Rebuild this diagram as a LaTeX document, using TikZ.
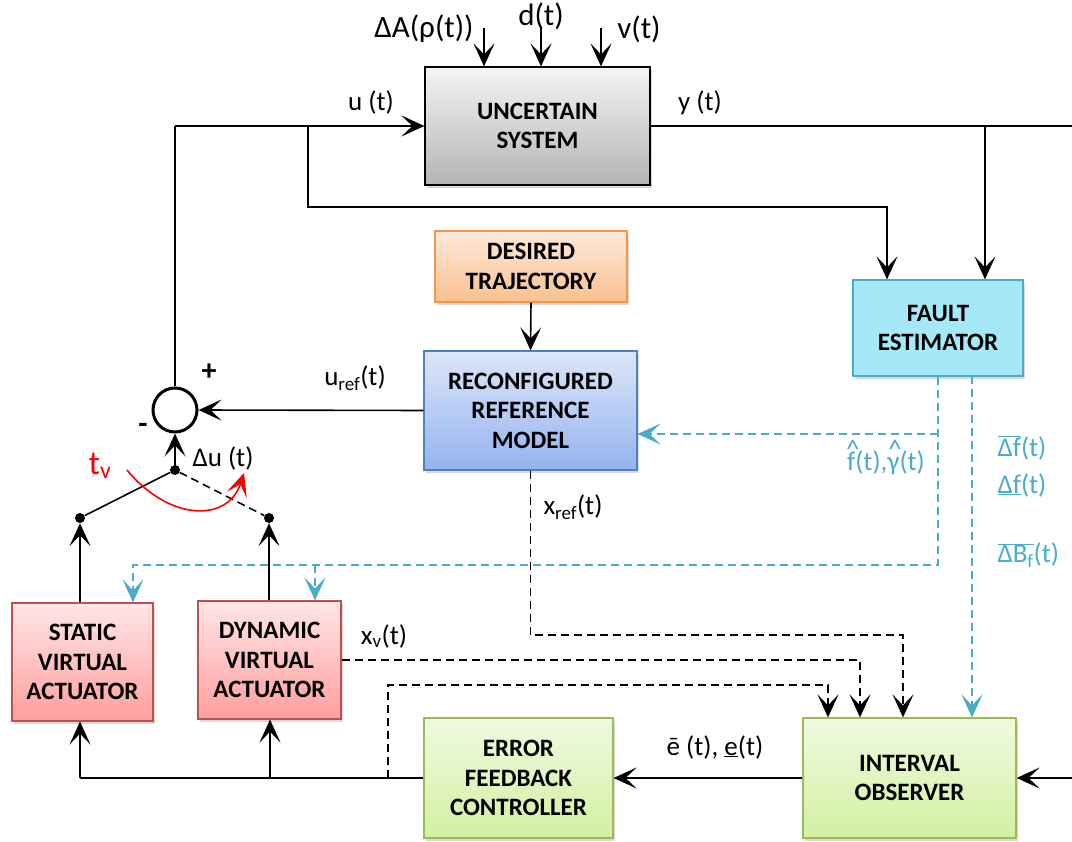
\documentclass[tikz,border=0pt]{standalone}
\usepackage{fontspec}
\setmainfont{Carlito}
\usetikzlibrary{arrows.meta, positioning, shadows}

\definecolor{cyline}{HTML}{4BACC6}
\definecolor{sysTop}{HTML}{F4F4F4}
\definecolor{sysBot}{HTML}{B4B4B4}
\definecolor{trajTop}{HTML}{FDEADA}
\definecolor{trajBot}{HTML}{FAC08F}
\definecolor{trajLine}{HTML}{F79646}
\definecolor{refTop}{HTML}{DCE6F8}
\definecolor{refBot}{HTML}{95B3F0}
\definecolor{refLine}{HTML}{4F81BD}
\definecolor{festFill}{HTML}{A5E8F8}
\definecolor{vaTop}{HTML}{FFE6E6}
\definecolor{vaBot}{HTML}{FF9E9E}
\definecolor{vaLine}{HTML}{C0504D}
\definecolor{grTop}{HTML}{F0FADF}
\definecolor{grBot}{HTML}{D2F0A2}
\definecolor{grLine}{HTML}{9BBB59}

% hat drawn above a letter (the font has no combining circumflex)
\newcommand\hatted[1]{\ooalign{#1\cr\hidewidth\raisebox{0.42em}{\kern0.12em\textasciicircum}\hidewidth\cr}}

\begin{document}
\begin{tikzpicture}[x=1pt, y=-1pt,
        block/.style={rectangle, draw, line width=1.2pt, text centered, align=center,
            font=\fontsize{25}{29.5}\selectfont\bfseries,
            drop shadow={opacity=0.3, shadow xshift=2pt, shadow yshift=-3pt}},
        sysbox/.style={block, draw=black, top color=sysTop, bottom color=sysBot},
        trajbox/.style={block, draw=trajLine, top color=trajTop, bottom color=trajBot},
        refbox/.style={block, draw=refLine, top color=refTop, bottom color=refBot},
        festbox/.style={block, draw=cyline, fill=festFill},
        vabox/.style={block, draw=vaLine, top color=vaTop, bottom color=vaBot},
        grbox/.style={block, draw=grLine, top color=grTop, bottom color=grBot},
        sumnode/.style={circle, draw, line width=3pt, minimum size=44pt, inner sep=0pt},
        dot/.style={circle, fill=black, minimum size=10pt, inner sep=0pt},
        sig/.style={font=\fontsize{27}{30}\selectfont},
        bigsig/.style={font=\fontsize{31}{33}\selectfont},
        cysig/.style={sig, text=cyline},
        line/.style={line width=1.6pt},
        arrow/.style={line, -{Stealth[length=23pt, width=21pt, inset=11pt]}},
        darrow/.style={arrow, dash pattern=on 8pt off 5pt},
        cyarrow/.style={darrow, draw=cyline, -{Stealth[length=23pt, width=21pt, inset=11pt, fill=cyline]}}
    ]
        \useasboundingbox (0,0) rectangle (1072,842);

        % Blocks
        \node[sysbox, minimum width=225pt, minimum height=118pt] (sys) at (537.5,126) {UNCERTAIN\\SYSTEM};
        \node[trajbox, minimum width=192pt, minimum height=71pt] (traj) at (531,266.5) {DESIRED\\TRAJECTORY};
        \node[refbox, minimum width=213pt, minimum height=119pt] (ref) at (530.5,410.5) {RECONFIGURED\\REFERENCE\\MODEL};
        \node[festbox, minimum width=170pt, minimum height=96pt] (fest) at (938,328) {FAULT\\ESTIMATOR};
        \node[vabox, minimum width=141pt, minimum height=118pt] (sva) at (82.5,662) {STATIC\\VIRTUAL\\ACTUATOR};
        \node[vabox, minimum width=143pt, minimum height=118pt] (dva) at (269.5,660) {DYNAMIC\\VIRTUAL\\ACTUATOR};
        \node[grbox, minimum width=189pt, minimum height=120pt] (efc) at (518.5,778) {ERROR\\FEEDBACK\\CONTROLLER};
        \node[grbox, minimum width=213pt, minimum height=120pt] (io) at (909.5,778) {INTERVAL\\OBSERVER};

        % Sum and switch
        \node[sumnode] (sum) at (175,410) {};
        \node[dot] (piv) at (175,470) {};
        \node[dot] (cs) at (80,518) {};
        \node[dot] (cd) at (269,518) {};

        % Disturbances
        \coordinate (dA) at (484,28);
        \coordinate (dd) at (541,28);
        \coordinate (dv) at (601,28);
        \draw[arrow] (dA) -- (dA |- sys.north);
        \draw[arrow] (dd) -- (dd |- sys.north);
        \draw[arrow] (dv) -- (dv |- sys.north);
        \node[bigsig] (lA) at (424,29) {ΔA(ρ(t))};
        \node[bigsig] (ld) at (541,16) {d(t)};
        \node[bigsig] (lv) at (639,29) {v(t)};

        % Plant input / output
        \coordinate (uleft) at (175,126);
        \coordinate (ubr) at (308,126);
        \coordinate (ucorner) at (887,207);
        \draw[arrow] (uleft) -- (sys.west);
        \draw[line] (uleft) -- (sum.north);
        \draw[arrow] (ubr) |- (ucorner) -- (ucorner |- fest.north);
        \coordinate (yend) at (1072,126);
        \coordinate (ybr) at (985,126);
        \draw[line] (sys.east) -- (yend);
        \draw[arrow] (ybr) -- (ybr |- fest.north);
        \node[sig] (lu) at (371,103) {u (t)};
        \node[sig] (ly) at (700,103) {y (t)};

        % Reference path
        \draw[arrow] (traj.south) -- (ref.north);
        \draw[arrow] (ref.west) -- (sum.east);
        \node[sig] (luref) at (355,378) {u\textsubscript{ref}(t)};
        \node[font=\fontsize{30}{32}\selectfont\bfseries] (lplus) at (209,372) {+};
        \node[font=\fontsize{30}{32}\selectfont\bfseries] (lminus) at (143,428) {-};

        % Switch between actuators
        \draw[arrow] (piv) -- (sum.south);
        \draw[line] (piv) -- (cs);
        \draw[line, dash pattern=on 8pt off 5pt] (piv) -- (cd);
        \draw[arrow] (cs |- sva.north) -- (cs);
        \draw[arrow] (cd |- dva.north) -- (cd);
        \node[sig] (ldu) at (223,458) {Δu (t)};
        \node[font=\fontsize{34}{36}\selectfont, text=red] (ltv) at (100,466) {t\textsubscript{v}};
        \coordinate (tva) at (127,470);
        \coordinate (tvb) at (244,473);
        \draw[arrow, red] (tva) .. controls (170,522) and (228,522) .. (tvb);

        % Fault estimates (dashed, cyan)
        \coordinate (cfh) at (938,434);
        \coordinate (cvl) at (133,565);
        \coordinate (cvd) at (315,565);
        \coordinate (cdf) at (972,376);
        \draw[cyarrow] (fest.south) |- (cvl) -- (cvl |- sva.north);
        \draw[cyarrow] (cvd) -- (cvd |- dva.north);
        \draw[cyarrow] (cfh) -- (cfh -| ref.east);
        \draw[cyarrow] (cdf) -- (cdf |- io.north);
        \node[cysig] (lfh) at (886,462) {\hatted{f}(t),\hatted{γ}(t)};
        \node[cysig, anchor=west] (ldfu) at (994,448) {$\overline{\mbox{Δf}}$(t)};
        \node[cysig, anchor=west] (ldfl) at (994,485) {\underline{Δf}(t)};
        \node[cysig, anchor=west] (ldb) at (994,555) {$\overline{\mbox{ΔB\textsubscript{f}}}$(t)};

        % Observer inputs (dashed)
        \coordinate (xrc) at (903,635);
        \coordinate (xvc) at (860,660);
        \coordinate (fbl) at (388,778);
        \coordinate (fbc) at (828,685);
        \draw[darrow] (ref.south) |- (xrc) -- (xrc |- io.north);
        \draw[darrow] (dva.east) -- (xvc) -- (xvc |- io.north);
        \draw[darrow] (fbl) |- (fbc) -- (fbc |- io.north);
        \node[sig] (lxref) at (573,507) {x\textsubscript{ref}(t)};
        \node[sig] (lxv) at (384,636) {x\textsubscript{v}(t)};

        % Error feedback
        \coordinate (inR) at (1072,778);
        \coordinate (bl) at (80,778);
        \coordinate (bd) at (270,778);
        \draw[arrow] (io.west) -- (efc.east);
        \draw[arrow] (inR) -- (io.east);
        \draw[line] (efc.west) -- (bl);
        \draw[arrow] (bl) -- (bl |- sva.south);
        \draw[arrow] (bd) -- (bd |- dva.south);
        \node[sig] (le) at (715,747) {\={e} (t), \underline{e}(t)};

    \end{tikzpicture}
\end{document}
